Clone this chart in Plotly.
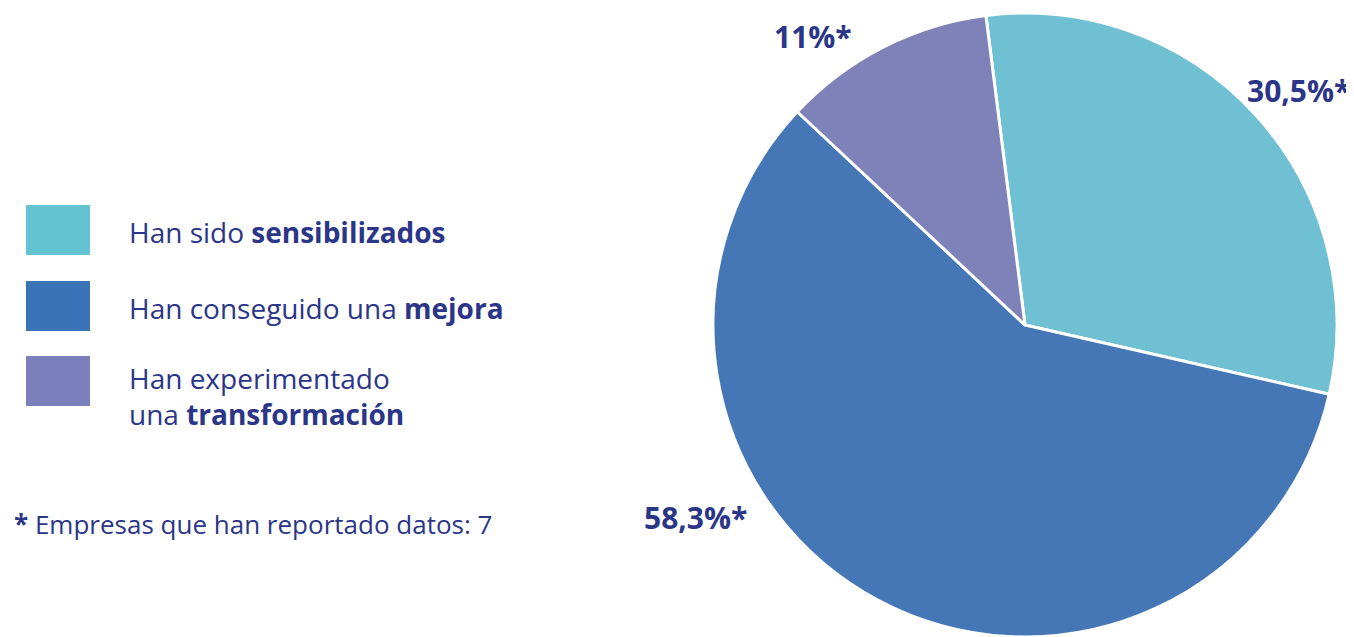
import plotly.graph_objects as go

categories = ["Han sido sensibilizados", "Han conseguido una mejora", "Han experimentado una transformación"]
values = [30.5, 58.3, 11.0]
value_labels = ["30,5%*", "58,3%*", "11%*"]
legend_html = [
    "Han sido <b>sensibilizados</b>",
    "Han conseguido una <b>mejora</b>",
    "Han experimentado<br>una <b>transformación</b>",
]
footnote = "<b>*</b> Empresas que han reportado datos: 7"

slice_colors = ["#6fc0d2", "#4577b7", "#7f82b9"]
legend_colors = ["#64c3d0", "#3b73b8", "#7b7fbb"]
text_color = "#2b3688"
font_family = "Open Sans"

OFF = 8  # default page body margin
W, H = 1354 - OFF, 637 - OFF


def px(x):
    return (x - OFF) / W


def py(y):
    return 1 - (y - OFF) / H


cx, cy, r = 1025, 325, 312

fig = go.Figure()
fig.add_trace(go.Pie(
    labels=categories,
    values=values,
    sort=False,
    direction="clockwise",
    rotation=-7.2,
    marker=dict(colors=slice_colors, line=dict(color="white", width=3)),
    textinfo="none",
    hoverinfo="label+percent",
    showlegend=False,
    domain=dict(x=[px(cx - r), px(cx + r)], y=[max(0, py(cy + r)), min(1, py(cy - r))]),
))

annotations = []
label_pos = [(1352, 90, "right"), (695, 517, "center"), (813, 37, "center")]
for txt, (x, y, anc) in zip(value_labels, label_pos):
    annotations.append(dict(
        x=px(x), y=py(y), xref="paper", yref="paper",
        text="<b>" + txt + "</b>", showarrow=False,
        font=dict(family=font_family, size=30, color=text_color),
        xanchor=anc, yanchor="middle",
    ))

sq_tops = [205, 281, 356]
text_y = [232, 308, 396]
shapes = []
for col, top, html, ty in zip(legend_colors, sq_tops, legend_html, text_y):
    shapes.append(dict(
        type="rect", xref="paper", yref="paper",
        x0=px(26), x1=px(90), y0=py(top + 50), y1=py(top),
        fillcolor=col, line=dict(width=0),
    ))
    annotations.append(dict(
        x=px(127), y=py(ty), xref="paper", yref="paper",
        text=html, showarrow=False, align="left",
        font=dict(family=font_family, size=28, color=text_color),
        xanchor="left", yanchor="middle",
    ))

annotations.append(dict(
    x=px(12), y=py(524), xref="paper", yref="paper",
    text=footnote, showarrow=False, align="left",
    font=dict(family=font_family, size=26, color=text_color),
    xanchor="left", yanchor="middle",
))

fig.update_layout(
    width=W, height=H,
    margin=dict(l=0, r=0, t=0, b=0),
    paper_bgcolor="white", plot_bgcolor="white",
    annotations=annotations, shapes=shapes,
)

fig.write_html("out.html")
